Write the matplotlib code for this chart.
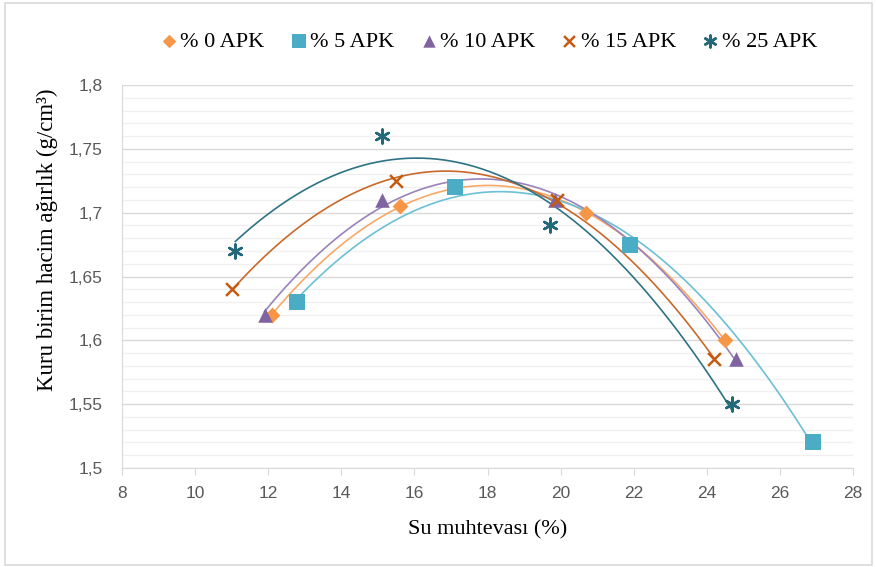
import numpy as np
import matplotlib.pyplot as plt
from matplotlib.patches import Rectangle
from matplotlib.ticker import MultipleLocator

# ── Data: water content (%) vs dry unit weight (g/cm3) ────────────────────────
labels = ["% 0 APK", "% 5 APK", "% 10 APK", "% 15 APK", "% 25 APK"]

x_0 = [12.1, 15.6, 20.7, 24.5]
y_0 = [1.62, 1.705, 1.70, 1.60]

x_5 = [12.8, 17.1, 21.9, 26.9]
y_5 = [1.63, 1.72, 1.675, 1.52]

x_10 = [11.9, 15.1, 19.85, 24.8]
y_10 = [1.62, 1.71, 1.71, 1.585]

x_15 = [11.0, 15.5, 19.9, 24.2]
y_15 = [1.64, 1.725, 1.71, 1.585]

x_25 = [11.1, 15.1, 19.7, 24.7]
y_25 = [1.67, 1.76, 1.69, 1.55]

xs = [x_0, x_5, x_10, x_15, x_25]
ys = [y_0, y_5, y_10, y_15, y_25]

# ── Styles ─────────────────────────────────────────────────────────────────────
markers = ["D", "s", "^", "x", (6, 2, 0)]
m_sizes = [65, 130, 110, 85, 100]
colors = ["#F79646", "#4BACC6", "#8064A2", "#C55A11", "#23697A"]
line_colors = ["#F9A868", "#6CC0D6", "#9A82BA", "#C8692A", "#2E7384"]

SERIF = "Liberation Serif"
TICKF = "Liberation Sans Narrow"
plt.rcParams["font.family"] = [SERIF, "DejaVu Serif"]

fig = plt.figure(figsize=(8.77, 5.67), dpi=100)
fig.patch.set_facecolor("white")
fig.patches.append(Rectangle((0.006, 0.004), 0.988, 0.99, transform=fig.transFigure,
                             fill=False, edgecolor="#D9D9D9", lw=1.2))

ax = fig.add_axes([122 / 877, 1 - 468 / 567, (853 - 122) / 877, (468 - 85) / 567])
ax.set_xlim(8, 28)
ax.set_ylim(1.5, 1.8)

ax.xaxis.set_major_locator(MultipleLocator(2))
ax.yaxis.set_major_locator(MultipleLocator(0.05))
ax.yaxis.set_minor_locator(MultipleLocator(0.01))
ax.grid(axis="y", which="major", color="#D9D9D9", lw=1.0)
ax.grid(axis="y", which="minor", color="#F0F0F0", lw=1.0)
ax.set_axisbelow(True)

for side in ["top", "right"]:
    ax.spines[side].set_visible(False)
ax.spines["left"].set_color("#D9D9D9")
ax.spines["bottom"].set_color("#D9D9D9")
ax.tick_params(axis="x", which="major", length=5, color="#D9D9D9", direction="out",
               labelsize=12.5, labelcolor="#595959", pad=8)
ax.tick_params(axis="y", which="both", length=0, labelsize=12.5,
               labelcolor="#595959", pad=14)

ax.set_xticks(np.arange(8, 29, 2))
ax.set_xticklabels([str(v) for v in range(8, 29, 2)], family=[TICKF, "Liberation Sans"])
yt = [1.5, 1.55, 1.6, 1.65, 1.7, 1.75, 1.8]
ax.set_yticks(yt)
ax.set_yticklabels([("%g" % v).replace(".", ",") for v in yt],
                   family=[TICKF, "Liberation Sans"])

# points + second-order polynomial trendlines
handles = []
for x, y, lab, mk, ms, c, lc in zip(xs, ys, labels, markers, m_sizes, colors, line_colors):
    coef = np.polyfit(x, y, 2)
    xx = np.linspace(min(x), max(x), 200)
    ax.plot(xx, np.polyval(coef, xx), color=lc, lw=1.2, zorder=2)
    lw_m = 1.8 if mk == "x" or isinstance(mk, tuple) else 0
    h = ax.scatter(x, y, marker=mk, s=ms, color=c, linewidths=lw_m, label=lab, zorder=3)
    handles.append(h)

ax.set_xlabel("Su muhtevası (%)", fontsize=16, labelpad=14)
ax.set_ylabel("Kuru birim hacim ağırlık (g/cm³)", fontsize=16.5)
ax.yaxis.set_label_coords(-0.087, 0.595)

fig.legend(handles=handles, labels=labels, loc="center", bbox_to_anchor=(0.557, 0.926),
           ncol=5, frameon=False, fontsize=16, handletextpad=0.1, columnspacing=1.15,
           handlelength=0.8, markerscale=0.85, borderaxespad=0)

fig.savefig("out.png", dpi=100, facecolor="white")
